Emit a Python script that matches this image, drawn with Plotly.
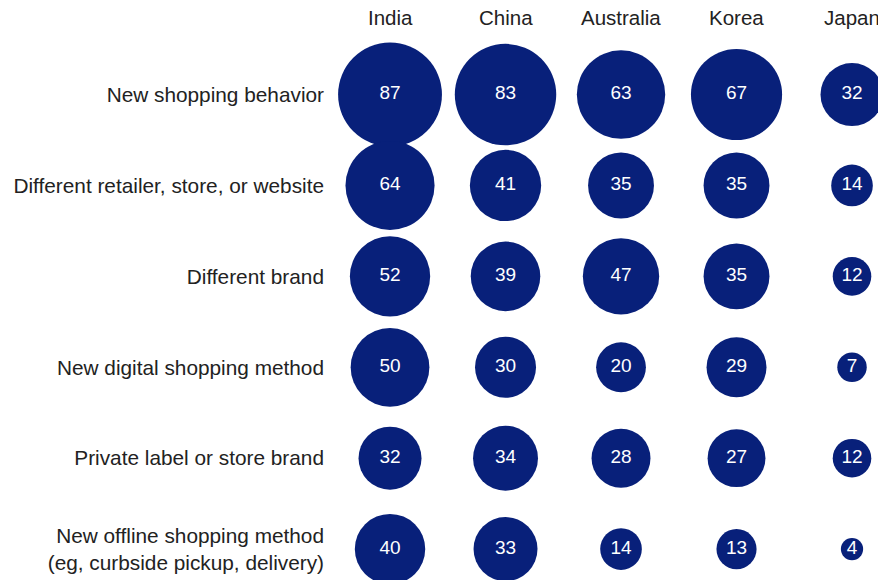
import plotly.graph_objects as go

countries = ["India", "China", "Australia", "Korea", "Japan"]
behaviors = [
    "New shopping behavior",
    "Different retailer, store, or website",
    "Different brand",
    "New digital shopping method",
    "Private label or store brand",
    "New offline shopping method<br>(eg, curbside pickup, delivery)",
]
india = [87, 64, 52, 50, 32, 40]
china = [83, 41, 39, 30, 34, 33]
australia = [63, 35, 47, 20, 28, 14]
korea = [67, 35, 35, 29, 27, 13]
japan = [32, 14, 12, 7, 12, 4]
series = [india, china, australia, korea, japan]

xs, ys, vals = [], [], []
for ci, col in enumerate(series):
    for ri, v in enumerate(col):
        xs.append(ci)
        ys.append(ri)
        vals.append(v)

BLUE = "#08207a"
FONT = "Liberation Sans, Arial, sans-serif"
TXT = "#222222"

fig = go.Figure(go.Scatter(
    x=xs, y=ys, mode="markers+text",
    marker=dict(size=vals, sizemode="area", sizeref=1 / 62.0, color=BLUE,
                opacity=1, line=dict(width=0)),
    text=[str(v) for v in vals],
    textposition="middle center",
    textfont=dict(color="white", size=19, family=FONT),
    cliponaxis=False,
    hoverinfo="skip",
))

for i, c in enumerate(countries):
    fig.add_annotation(
        x=i, y=1, xref="x", yref="paper", text=c, showarrow=False,
        xanchor="center", yanchor="middle", yshift=23,
        font=dict(size=20.5, color=TXT, family=FONT),
    )

fig.update_layout(
    width=878, height=580,
    margin=dict(l=325, r=0, t=40, b=0),
    paper_bgcolor="white", plot_bgcolor="white",
    showlegend=False,
    font=dict(family=FONT, color=TXT, size=20),
    xaxis=dict(
        range=[-0.563, 4.225], showticklabels=False,
        showgrid=False, zeroline=False, showline=False, ticks="",
    ),
    yaxis=dict(
        range=[5.34, -0.6],
        tickmode="array", tickvals=list(range(len(behaviors))), ticktext=behaviors,
        showgrid=False, zeroline=False, showline=False, ticks="",
        tickfont=dict(size=20.8, color=TXT),
        ticklabelstandoff=0,
    ),
)

fig.write_html("out.html")
